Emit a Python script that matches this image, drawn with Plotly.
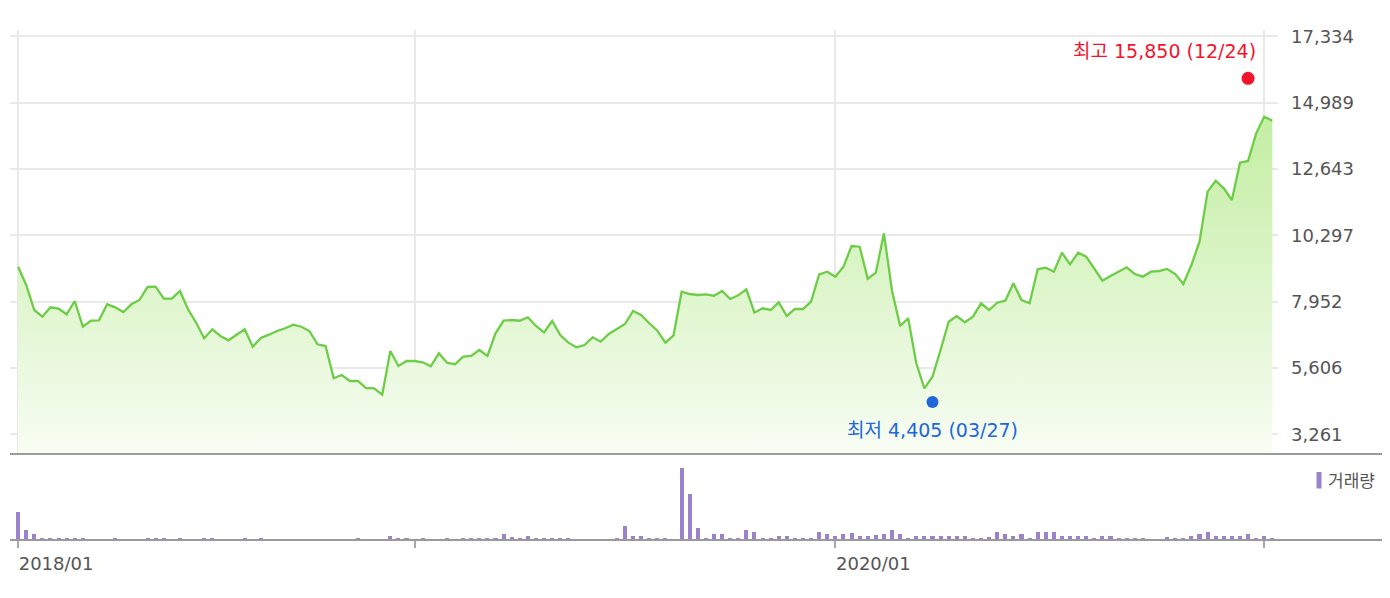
import plotly.graph_objects as go

# ---------------- data (weekly closes, index-based x axis) ----------------
close = [
    9189, 8542, 7659, 7422, 7754, 7705, 7507, 7977, 7068, 7280,
    7295, 7860, 7754, 7588, 7860, 8012, 8472, 8483, 8058, 8058,
    8330, 7683, 7210, 6658, 6976, 6740, 6588, 6786, 6976, 6361,
    6669, 6786, 6916, 7012, 7139, 7068, 6916, 6446, 6386, 5244,
    5361, 5149, 5149, 4901, 4890, 4665, 6209, 5679, 5856, 5856,
    5810, 5668, 6128, 5796, 5739, 6008, 6033, 6245, 6033, 6835,
    7280, 7305, 7280, 7401, 7093, 6870, 7270, 6775, 6503, 6340,
    6421, 6694, 6538, 6810, 6976, 7164, 7623, 7482, 7189, 6927,
    6503, 6764, 8306, 8224, 8189, 8214, 8165, 8330, 8048, 8178,
    8390, 7563, 7719, 7659, 7931, 7447, 7694, 7694, 7952, 8921,
    9013, 8836, 9189, 9921, 9896, 8765, 8977, 10370, 8341, 7093,
    7365, 5775, 4891, 5301, 6245, 7245, 7447, 7224, 7422, 7896,
    7659, 7917, 7987, 8603, 8012, 7896, 9097, 9154, 9013, 9684,
    9274, 9684, 9543, 9133, 8694, 8861, 9027, 9168, 8931, 8836,
    9013, 9037, 9108, 8931, 8578, 9249, 10073, 11841, 12229, 11961,
    11547, 12866, 12926, 13905, 14492, 14350,
]

# weekly volume (thousand shares)
volume = [
    2770, 1000, 600, 200, 200, 200, 200, 200, 200, 0,
    0, 0, 200, 0, 0, 0, 200, 200, 200, 0,
    200, 0, 0, 200, 200, 0, 0, 0, 200, 0,
    200, 0, 0, 0, 0, 0, 0, 0, 0, 0,
    0, 0, 200, 0, 0, 0, 400, 250, 200, 0,
    200, 0, 0, 200, 0, 200, 200, 200, 200, 200,
    600, 350, 250, 370, 200, 200, 200, 200, 200, 0,
    0, 0, 0, 0, 200, 1400, 400, 400, 200, 200,
    200, 0, 7170, 4600, 1170, 250, 600, 600, 250, 250,
    1000, 800, 250, 250, 370, 370, 250, 250, 250, 830,
    600, 400, 600, 670, 400, 400, 470, 600, 1000, 600,
    200, 400, 400, 400, 400, 400, 400, 400, 200, 200,
    300, 800, 600, 400, 600, 200, 800, 800, 800, 400,
    400, 400, 400, 200, 400, 400, 200, 200, 200, 200,
    0, 0, 300, 200, 200, 400, 600, 800, 400, 400,
    400, 400, 600, 200, 400, 200,
]

x_tick_idx = [0, 49, 101, 154]
x_tick_text = ["2018/01", "", "2020/01", ""]
y_ticks = [3261, 5606, 7952, 10297, 12643, 14989, 17334]
y_tick_text = [f"{v:,}" for v in y_ticks]

high_idx, high_val, high_label = 152, 15850, "최고 15,850 (12/24)"
low_idx, low_val, low_label = 113, 4405, "최저 4,405 (03/27)"
volume_name = "거래량"

idx = list(range(len(close)))

# ---------------- styles ----------------
FONT = "DejaVu Sans, Noto Sans CJK KR, sans-serif"
LINE_C = "#6dcd47"
VOL_C = "#9a82cd"
GRID_C = "#e9e9e9"
AXIS_C = "#9a9a9a"
TXT_C = "#555555"
RED = "#f3142c"
BLUE = "#2166d8"

OFF = 8                      # page body margin
W, H = 1390 - OFF, 598 - OFF
ML = 10 - OFF
PLOT_RIGHT = 1278 - OFF
MR = W - PLOT_RIGHT
PW = PLOT_RIGHT - ML


def py(px):  # page pixel row -> paper y
    return 1 - (px - OFF) / H


def pxx(px):  # page pixel col -> paper x
    return (px - OFF - ML) / PW


fig = go.Figure()

fig.add_trace(go.Scatter(
    x=idx, y=close, mode="lines",
    line=dict(color=LINE_C, width=2.3),
    fill="tozeroy",
    fillgradient=dict(type="vertical",
                      colorscale=[[0, "#f8fdf4"], [1, "#c0ed9d"]],
                      start=2568, stop=15200),
    xaxis="x", yaxis="y", hoverinfo="skip", showlegend=False,
))

fig.add_trace(go.Bar(
    x=idx, y=volume, marker=dict(color=VOL_C, line=dict(width=0)), width=0.5,
    xaxis="x2", yaxis="y2", showlegend=False, name=volume_name,
))

fig.add_trace(go.Scatter(
    x=[high_idx], y=[high_val], mode="markers",
    marker=dict(color=RED, size=13), xaxis="x", yaxis="y", showlegend=False,
))
fig.add_trace(go.Scatter(
    x=[low_idx], y=[low_val], mode="markers",
    marker=dict(color=BLUE, size=12), xaxis="x", yaxis="y", showlegend=False,
))

xr = [-1, 155.7]

fig.update_layout(
    width=W, height=H,
    margin=dict(l=ML, r=MR, t=0, b=0, pad=0, autoexpand=False),
    paper_bgcolor="white", plot_bgcolor="white",
    font=dict(family=FONT, size=18, color=TXT_C),
    bargap=0,
    xaxis=dict(domain=[0, 1], range=xr, anchor="y", automargin=False,
               tickvals=x_tick_idx, showticklabels=False, ticks="",
               showgrid=True, gridcolor=GRID_C, gridwidth=1.5, zeroline=False,
               fixedrange=True),
    yaxis=dict(domain=[py(454), py(30.2)], range=[2568, 17550], anchor="x",
               automargin=False,
               side="right", tickvals=y_ticks, ticktext=y_tick_text,
               showgrid=True, gridcolor=GRID_C, gridwidth=1.5, zeroline=False,
               ticks="", ticklabelstandoff=12,
               tickfont=dict(size=18, color=TXT_C, family=FONT)),
    xaxis2=dict(domain=[0, 1], range=xr, anchor="y2", automargin=False,
                tickvals=x_tick_idx, ticktext=x_tick_text,
                ticks="outside", ticklen=7, tickwidth=2, tickcolor="#a8a8a8",
                showgrid=False, zeroline=False, showline=False,
                ticklabelshift=38, ticklabelstandoff=0,
                tickfont=dict(size=18, color=TXT_C, family=FONT)),
    yaxis2=dict(domain=[py(540), py(455)], range=[0, 8500], anchor="x2",
                automargin=False,
                showgrid=False, zeroline=False, showticklabels=False, ticks=""),
    shapes=[
        dict(type="line", xref="paper", yref="paper",
             x0=0, x1=pxx(1390), y0=py(454), y1=py(454),
             line=dict(color=AXIS_C, width=2)),
        dict(type="line", xref="paper", yref="paper",
             x0=0, x1=pxx(1390), y0=py(540), y1=py(540),
             line=dict(color=AXIS_C, width=2)),
        dict(type="rect", xref="paper", yref="paper",
             x0=pxx(1316.5), x1=pxx(1321.5), y0=py(488.5), y1=py(472),
             fillcolor=VOL_C, line=dict(width=0)),
    ],
    annotations=[
        dict(x=high_idx, y=high_val, xref="x", yref="y", text=high_label,
             showarrow=False, xanchor="right", yanchor="middle",
             xshift=10, yshift=27, font=dict(color=RED, size=19, family=FONT)),
        dict(x=low_idx, y=low_val, xref="x", yref="y", text=low_label,
             showarrow=False, xanchor="center", yanchor="middle",
             yshift=-28, font=dict(color=BLUE, size=19, family=FONT)),
        dict(x=pxx(1326), y=py(481), xref="paper", yref="paper",
             text=volume_name, showarrow=False, xanchor="left",
             yanchor="middle", font=dict(color=TXT_C, size=17, family=FONT)),
    ],
)

fig.write_html("out.html")
